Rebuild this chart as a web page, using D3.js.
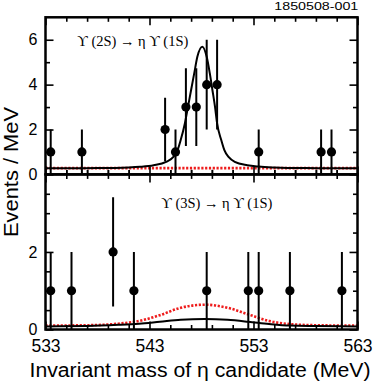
<!DOCTYPE html>
<html><head><meta charset="utf-8">
<script src="https://cdn.jsdelivr.net/npm/d3@7"></script>
<style>
html,body{margin:0;padding:0;background:#fff;}
svg{display:block;}
</style>
</head><body>
<svg id="chart" width="374" height="383"></svg>
<script>
// ---- data ----
const xDomain = [533, 563];
const xMajorTicks = [533, 543, 553, 563];
const xMinorTicks = [535, 537, 539, 541, 545, 547, 549, 551, 555, 557, 559, 561];

// Upper panel: Y(2S) -> eta Y(1S)
const topLabel = "ϒ (2S) → η ϒ (1S)";
const topX   = [533.5, 536.5, 544.5, 545.5, 546.5, 547.5, 548.5, 549.5, 553.5, 559.5, 560.5];
const topY   = [1, 1, 2, 1, 3, 3, 4, 4, 1, 1, 1];
const topErr = [1, 1, 1.41, 1, 1.73, 1.73, 2, 2, 1, 1, 1];
const topYTicksMajor = [0, 2, 4, 6];
const topYTicksMinor = [1, 3, 5];
const topFitX = [533, 538, 541, 542.1, 543.4, 544.6, 545.3, 545.7, 546.0, 546.4, 546.7, 547.0, 547.3, 547.6, 548.08, 548.5, 548.8, 549.05, 549.3, 549.5, 549.9, 550.2, 550.6, 551.2, 552.4, 553.5, 555, 558, 563];
const topFitY = [0.27, 0.28, 0.31, 0.34, 0.41, 0.56, 0.78, 1.08, 1.53, 2.27, 3.01, 3.76, 4.50, 5.24, 5.69, 5.24, 4.50, 3.76, 3.01, 2.27, 1.53, 1.08, 0.78, 0.56, 0.41, 0.35, 0.31, 0.28, 0.27];
const topBkgX = [533, 563];
const topBkgY = [0.28, 0.28];

// Lower panel: Y(3S) -> eta Y(1S)
const botLabel = "ϒ (3S) → η ϒ (1S)";
const botX   = [533.5, 535.5, 539.5, 541.5, 548.5, 552.5, 553.5, 556.5, 561.5];
const botY   = [1, 1, 2, 1, 1, 1, 1, 1, 1];
const botErr = [1, 1, 1.41, 1, 1, 1, 1, 1, 1];
const botYTicksMajor = [0, 2];
const botYTicksMinor = [0.5, 1, 1.5, 2.5, 3, 3.5];
const botFitX = [533, 537, 540, 542, 544, 546, 548.3, 550.5, 552.5, 554.5, 556.5, 559, 563];
const botFitY = [0.08, 0.09, 0.12, 0.15, 0.20, 0.25, 0.27, 0.25, 0.20, 0.14, 0.10, 0.09, 0.08];
const botRedX = [533, 537, 540, 542, 544, 546, 548.3, 550.5, 552.5, 554.5, 556.5, 559, 563];
const botRedY = [0.10, 0.11, 0.15, 0.22, 0.37, 0.56, 0.64, 0.56, 0.39, 0.22, 0.14, 0.11, 0.10];

const figId = "1850508-001";
const xTitle = "Invariant mass of η candidate (MeV)";
const yTitle = "Events / MeV";

// ---- layout ----
const L = 45.5, R = 357.5;
const topT = 17.3, midY = 174.4, botB = 329.5;

const svg = d3.select("#chart");
const x = d3.scaleLinear().domain(xDomain).range([L, R]);
const yTop = d3.scaleLinear().domain([0, 7]).range([midY, topT]);
const yBot = d3.scaleLinear().domain([0, 4]).range([botB, midY]);

const RED = "#ee1c1c";
const MAJ = 8, MIN = 4.5;

function drawPanel(y, ptsX, ptsY, errs, fitX, fitY, redX, redY, majT, minT, label, labelX, labelY, top, bottom) {
  const g = svg.append("g");
  const clipId = "clip" + Math.round(top);
  svg.append("clipPath").attr("id", clipId).append("rect")
    .attr("x", L).attr("y", top).attr("width", R - L).attr("height", bottom - top);
  const pg = g.append("g").attr("clip-path", `url(#${clipId})`);

  const line = d3.line().curve(d3.curveMonotoneX);
  pg.append("path")
    .attr("d", line(redX.map((v, i) => [x(v), y(redY[i])])))
    .attr("fill", "none").attr("stroke", RED).attr("stroke-width", 2.6)
    .attr("stroke-dasharray", "2.2,1.6");
  pg.append("path")
    .attr("d", line(fitX.map((v, i) => [x(v), y(fitY[i])])))
    .attr("fill", "none").attr("stroke", "#000").attr("stroke-width", 2);

  pg.selectAll("line.err").data(ptsX).enter().append("line")
    .attr("x1", d => x(d)).attr("x2", d => x(d))
    .attr("y1", (d, i) => y(Math.max(0, ptsY[i] - errs[i])))
    .attr("y2", (d, i) => y(ptsY[i] + errs[i]))
    .attr("stroke", "#000").attr("stroke-width", 2);
  pg.selectAll("circle").data(ptsX).enter().append("circle")
    .attr("cx", d => x(d)).attr("cy", (d, i) => y(ptsY[i]))
    .attr("r", 4.6).attr("fill", "#000");

  const ax = (a) => { a.select(".domain").remove(); a.selectAll("line").attr("stroke", "#000").attr("stroke-width", 1.6); };
  g.append("g").attr("transform", `translate(${L},0)`)
    .call(d3.axisLeft(y).tickValues(majT).tickSizeInner(-MAJ).tickSizeOuter(0).tickPadding(8).tickFormat(d3.format("d")))
    .call(ax)
    .call(a => a.selectAll("text").attr("font-family", "Liberation Sans, Arial, sans-serif").attr("font-size", "16px").attr("fill", "#000"));
  g.append("g").attr("transform", `translate(${L},0)`)
    .call(d3.axisLeft(y).tickValues(minT).tickSizeInner(-MIN).tickSizeOuter(0).tickFormat(""))
    .call(ax);
  g.append("g").attr("transform", `translate(${R},0)`)
    .call(d3.axisRight(y).tickValues(majT).tickSizeInner(-MAJ).tickSizeOuter(0).tickFormat(""))
    .call(ax);
  g.append("g").attr("transform", `translate(${R},0)`)
    .call(d3.axisRight(y).tickValues(minT).tickSizeInner(-MIN).tickSizeOuter(0).tickFormat(""))
    .call(ax);
  g.append("g").attr("transform", `translate(0,${top})`)
    .call(d3.axisTop(x).tickValues(xMajorTicks).tickSizeInner(-MAJ).tickSizeOuter(0).tickFormat(""))
    .call(ax);
  g.append("g").attr("transform", `translate(0,${top})`)
    .call(d3.axisTop(x).tickValues(xMinorTicks).tickSizeInner(-MIN).tickSizeOuter(0).tickFormat(""))
    .call(ax);
  g.append("g").attr("transform", `translate(0,${bottom})`)
    .call(d3.axisBottom(x).tickValues(xMinorTicks).tickSizeInner(-MIN).tickSizeOuter(0).tickFormat(""))
    .call(ax);

  g.append("rect").attr("x", L).attr("y", top).attr("width", R - L).attr("height", bottom - top)
    .attr("fill", "none").attr("stroke", "#000").attr("stroke-width", 2.5);

  g.append("text").attr("x", labelX).attr("y", labelY)
    .attr("text-anchor", "middle")
    .attr("font-family", "Liberation Serif, DejaVu Serif, serif")
    .attr("font-size", "14.5px").attr("fill", "#000")
    .attr("textLength", 111).attr("lengthAdjust", "spacingAndGlyphs")
    .text(label);
  return g;
}

drawPanel(yTop, topX, topY, topErr, topFitX, topFitY, topBkgX, topBkgY,
  topYTicksMajor, topYTicksMinor, topLabel, 132.8, 45.7, topT, midY);
drawPanel(yBot, botX, botY, botErr, botFitX, botFitY, botRedX, botRedY,
  botYTicksMajor, botYTicksMinor, botLabel, 216.8, 207.7, midY, botB);

svg.append("g").attr("transform", `translate(0,${botB})`)
  .call(d3.axisBottom(x).tickValues(xMajorTicks).tickSizeInner(-MAJ).tickSizeOuter(0).tickPadding(10).tickFormat(d3.format("d")))
  .call(a => { a.select(".domain").remove(); a.selectAll("line").attr("stroke", "#000").attr("stroke-width", 1.6); })
  .call(a => a.selectAll("text").attr("font-family", "Liberation Sans, Arial, sans-serif").attr("font-size", "17.5px").attr("fill", "#000"));
svg.append("g").attr("transform", `translate(0,${midY})`)
  .call(d3.axisBottom(x).tickValues(xMajorTicks).tickSizeInner(-MAJ).tickSizeOuter(0).tickFormat(""))
  .call(a => { a.select(".domain").remove(); a.selectAll("line").attr("stroke", "#000").attr("stroke-width", 1.6); });
svg.append("g").attr("transform", `translate(0,${midY})`)
  .call(d3.axisBottom(x).tickValues(xMinorTicks).tickSizeInner(-MIN).tickSizeOuter(0).tickFormat(""))
  .call(a => { a.select(".domain").remove(); a.selectAll("line").attr("stroke", "#000").attr("stroke-width", 1.6); });

svg.append("text").attr("x", 200).attr("y", 376.5).attr("text-anchor", "middle")
  .attr("font-family", "Liberation Sans, Arial, sans-serif").attr("font-size", "20px")
  .attr("textLength", 341).attr("lengthAdjust", "spacingAndGlyphs")
  .text(xTitle);
svg.append("text").attr("transform", "translate(17.5,172) rotate(-90)").attr("text-anchor", "middle")
  .attr("font-family", "Liberation Sans, Arial, sans-serif").attr("font-size", "19.5px")
  .attr("textLength", 130).attr("lengthAdjust", "spacingAndGlyphs")
  .text(yTitle);
svg.append("text").attr("x", 358.3).attr("y", 9.5).attr("text-anchor", "end")
  .attr("font-family", "Liberation Sans, Arial, sans-serif").attr("font-size", "11px")
  .attr("textLength", 84).attr("lengthAdjust", "spacingAndGlyphs")
  .text(figId);
</script>
</body></html>
